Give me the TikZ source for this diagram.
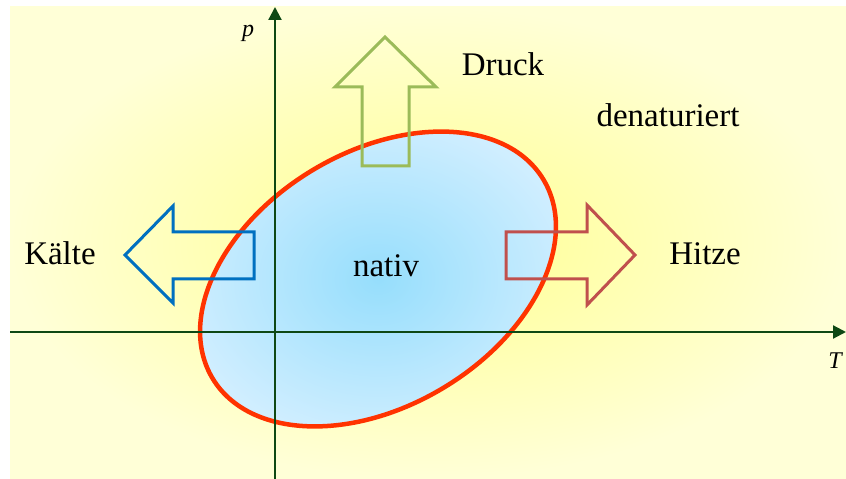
\documentclass[tikz,border=0pt]{standalone}
\usepackage{fontspec}
\setmainfont{Liberation Serif}
\usetikzlibrary{arrows.meta,shapes.geometric}
\definecolor{bgin}{RGB}{255,255,145}
\definecolor{bgout}{RGB}{255,255,215}
\definecolor{elin}{RGB}{150,222,252}
\definecolor{elout}{RGB}{208,238,255}
\definecolor{ellred}{RGB}{255,51,0}
\definecolor{axisgreen}{RGB}{14,72,20}
\definecolor{agreen}{RGB}{155,187,89}
\definecolor{ablue}{RGB}{0,112,192}
\definecolor{ared}{RGB}{192,80,77}
\begin{document}
\begin{tikzpicture}[x=1pt,y=1pt,
  axis/.style={draw=axisgreen, line width=2.2pt, -{Triangle[length=13pt,width=13pt]}},
  bigarrow/.style={line width=3pt, line join=miter},
  lbl/.style={font=\fontsize{33}{40}\selectfont, anchor=base, inner sep=0pt},
  axlbl/.style={font=\fontsize{24}{28}\selectfont\itshape, anchor=base, inner sep=0pt}]
\useasboundingbox (0,0) rectangle (846,479);
\shade[inner color=bgin, outer color=bgout] (10,0) rectangle (846,472);
\node[ellipse, draw=ellred, line width=4.5pt, minimum width=386pt, minimum height=254pt,
      inner sep=0pt, rotate=31, inner color=elin, outer color=elout] (nat) at (378,200) {};
\coordinate (yb) at (275,0);
\coordinate (yt) at (275,472);
\coordinate (xl) at (10,147);
\coordinate (xr) at (846,147);
\draw[axis] (yb) -- (yt);
\draw[axis] (xl) -- (xr);
% arrows
\draw[bigarrow, draw=agreen] (385,442) -- (436,392) -- (409,392) -- (409,313) -- (362,313) -- (362,392) -- (335,392) -- cycle;
\draw[bigarrow, draw=ablue] (125,224) -- (173,273) -- (173,247) -- (254,247) -- (254,200) -- (173,200) -- (173,176) -- cycle;
\draw[bigarrow, draw=ared] (506,247) -- (587,247) -- (587,274) -- (635,224) -- (587,174) -- (587,200) -- (506,200) -- cycle;
% labels
\node[lbl] (druck) at (503,403) {Druck};
\node[lbl] (den) at (668,352) {denaturiert};
\node[lbl] (kalt) at (60,214) {Kälte};
\node[lbl] (nativ) at (386,202) {nativ};
\node[lbl] (hitze) at (705,214) {Hitze};
\node[axlbl] (plab) at (248,442) {p};
\node[axlbl] (tlab) at (835,110) {T};
\end{tikzpicture}
\end{document}
